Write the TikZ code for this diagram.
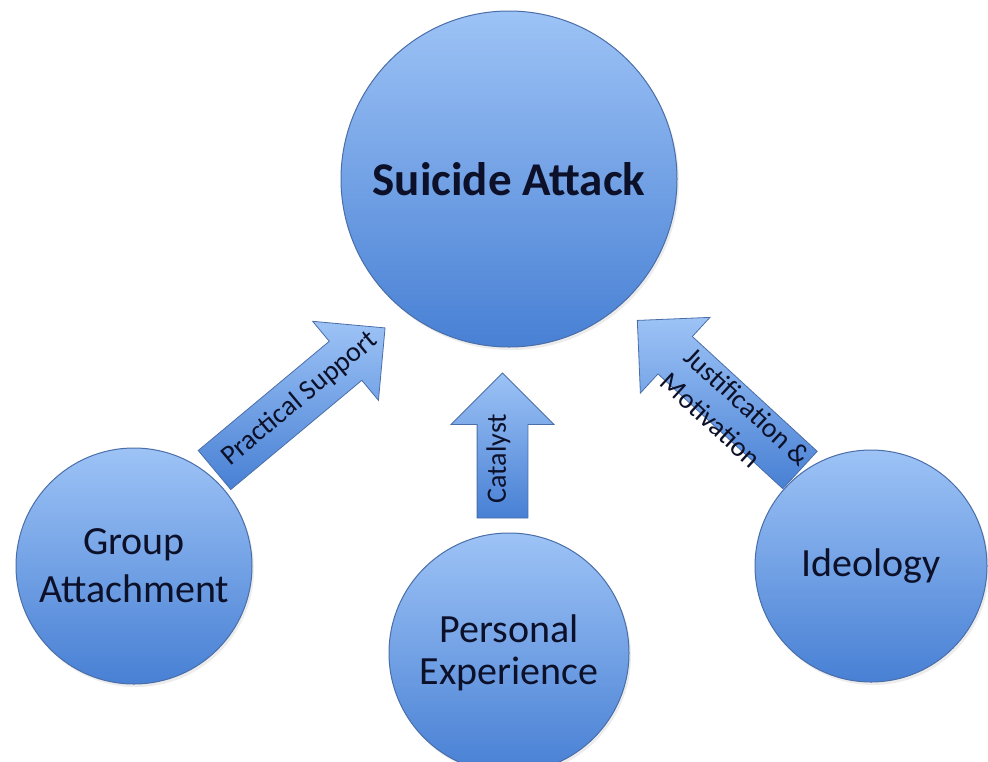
\documentclass[tikz,border=0pt]{standalone}
\usepackage{fontspec}
\setmainfont{Carlito}
\usetikzlibrary{shapes.arrows,shadows,calc}

\definecolor{ballTop}{RGB}{157,195,246}
\definecolor{ballBottom}{RGB}{72,128,212}
\definecolor{ballEdge}{RGB}{74,110,168}
\definecolor{labelInk}{RGB}{12,16,40}

\begin{document}
\begin{tikzpicture}[
    x=1pt, y=-1pt,
    ball/.style={circle, draw=ballEdge, line width=1pt, top color=ballTop, bottom color=ballBottom,
        inner sep=0pt, align=center, text=labelInk, font=\fontsize{40}{47}\selectfont,
        drop shadow={opacity=0.15, shadow xshift=2pt, shadow yshift=-3pt}},
    fatarrow/.style={single arrow, draw=ballEdge, line width=0.8pt, top color=ballTop, bottom color=ballBottom,
        inner xsep=0pt, inner ysep=25pt, minimum width=0pt, outer sep=0pt, anchor=tail,
        single arrow head extend=26pt, single arrow head indent=0pt},
    tag/.style={text=labelInk, font=\fontsize{28}{35}\selectfont}
]
\path[use as bounding box, fill=white] (0,0) rectangle (988,761);

% Block arrows
\node[fatarrow, rotate=39.8, minimum height=222] (support) at (214.5,470) {};
\node[fatarrow, rotate=90, minimum height=145] (catalyst) at (502.5,518) {};
\node[fatarrow, rotate=137.4, minimum height=221] (motive) at (800,470) {};

% Central circle
\node[ball, minimum size=336, font=\bfseries\fontsize{47}{52}\selectfont] (attack) at (509,179) {Suicide Attack};

% Causes
\node[ball, minimum size=236, font=\fontsize{40}{48}\selectfont] (group) at (134,566) {Group\\Attachment};
\node[ball, minimum size=240, font=\fontsize{40}{42}\selectfont] (personal) at (509,653) {Personal\\Experience};
\node[ball, minimum size=232] (ideology) at (871,566) {Ideology};

% Arrow labels
\node[tag, rotate=39.8] at ($(support.tail)!0.5!(support.tip)$) {Practical Support};
\node[tag, rotate=90] at ($(catalyst.tail)!0.41!(catalyst.tip)+(-4,0)$) {Catalyst};
\node[tag, rotate=-42.6, align=left] at ($(motive.tail)!0.37!(motive.tip)+(-4,4.4)$) {Justification \&\\Motivation};

\end{tikzpicture}
\end{document}
